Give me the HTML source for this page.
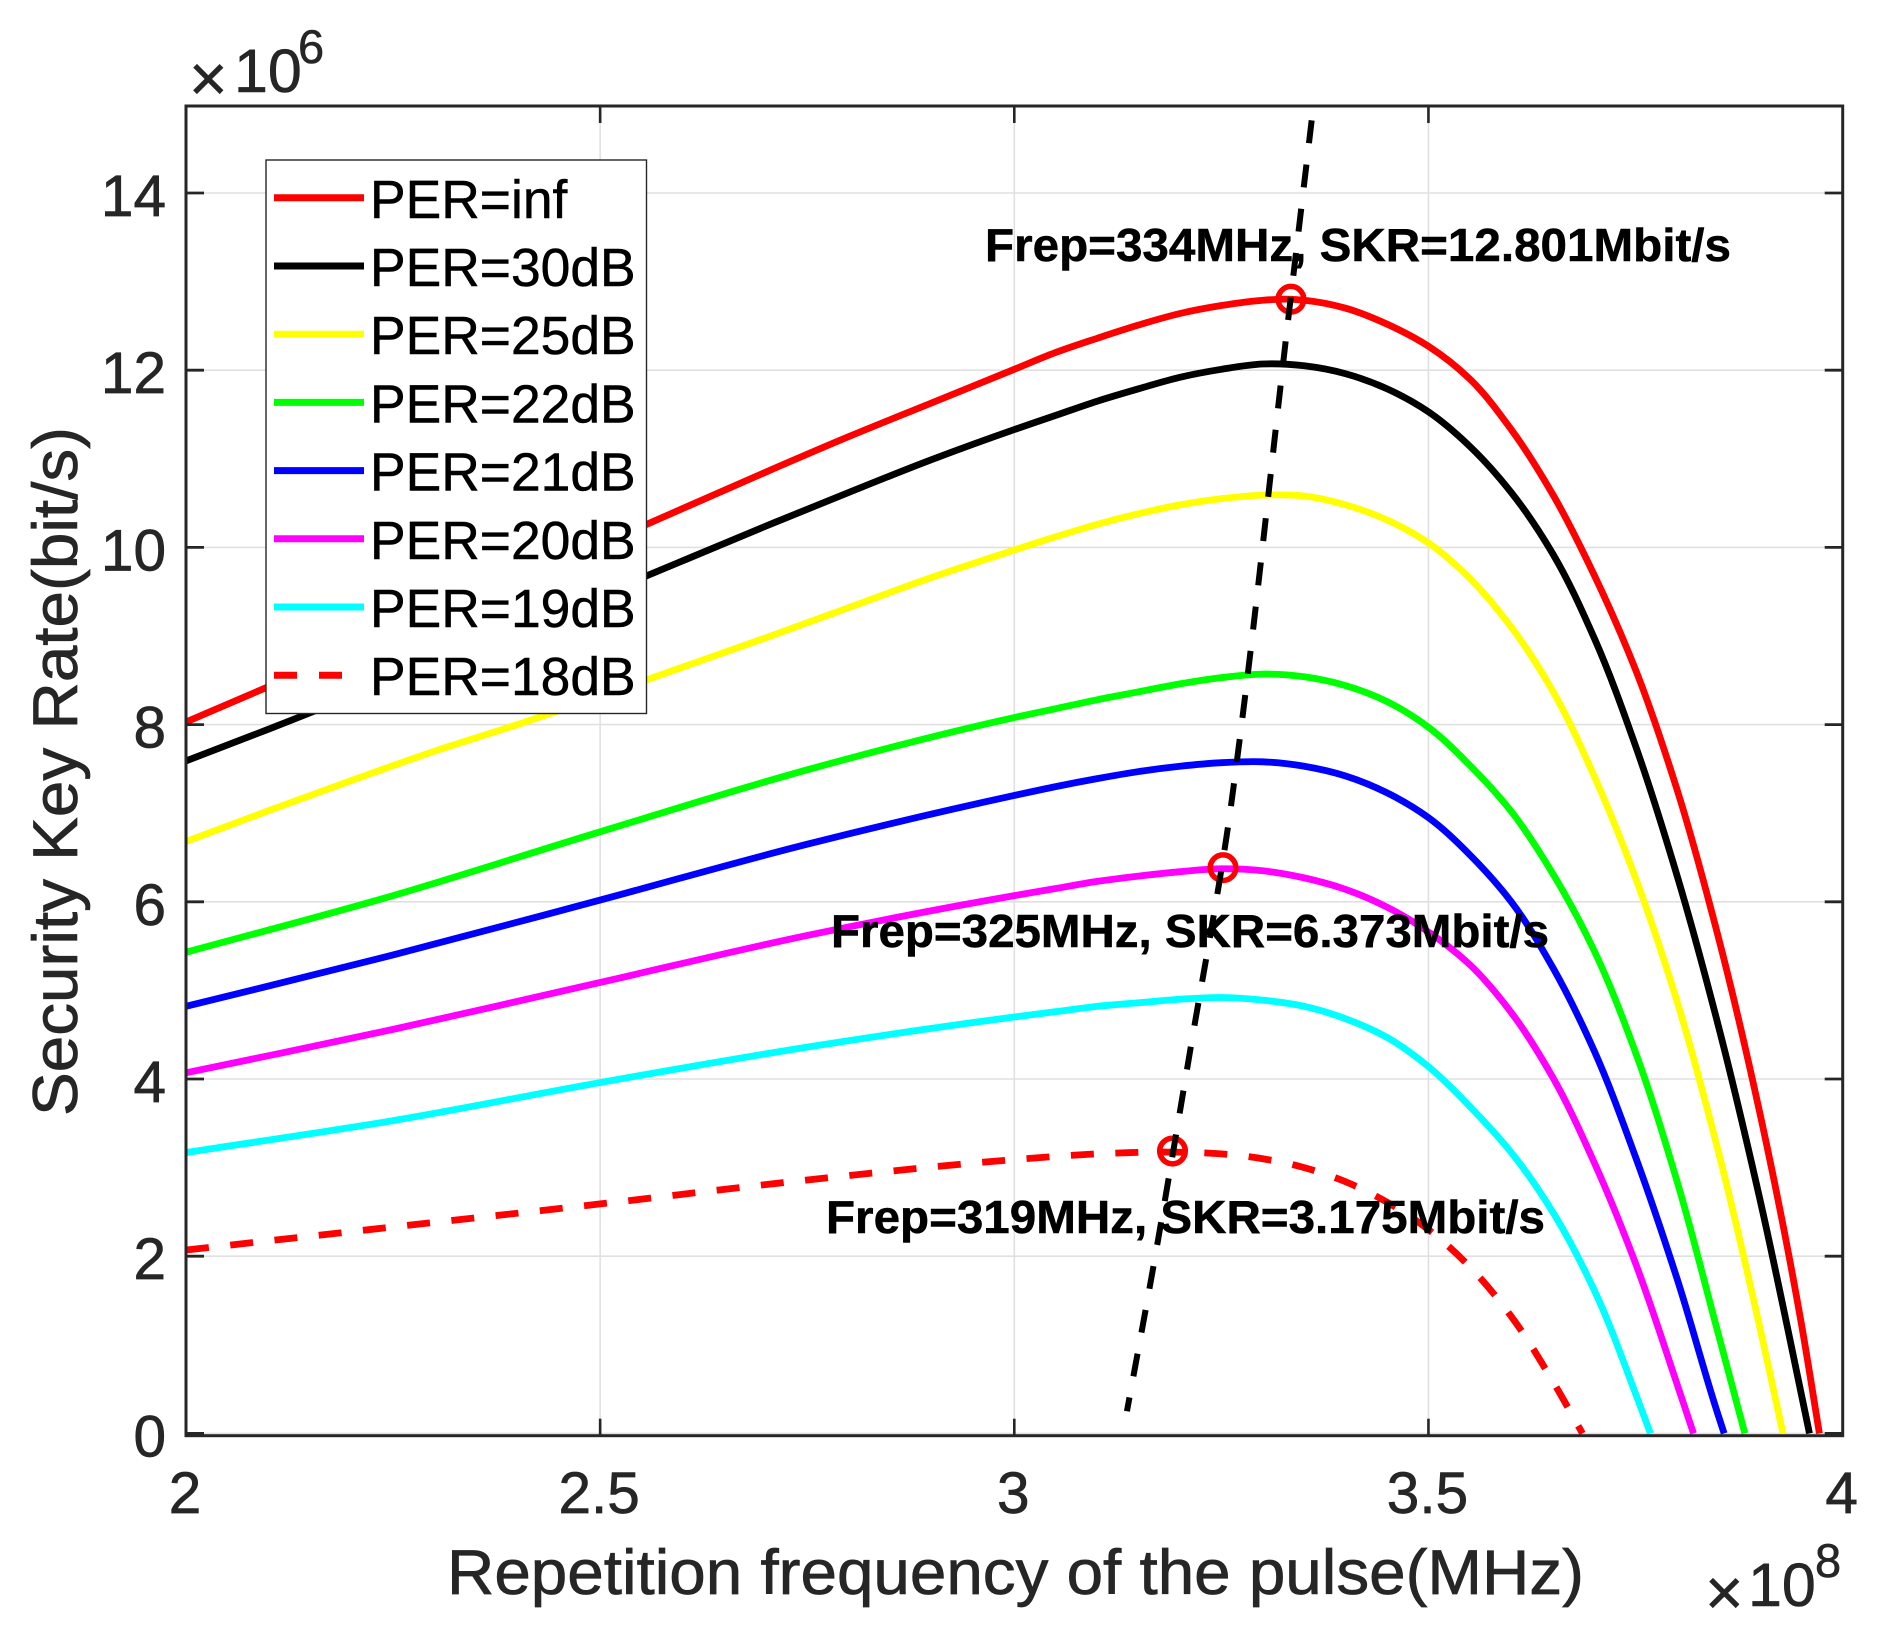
<!DOCTYPE html>
<html lang="en">
<head>
<meta charset="utf-8">
<title>Security Key Rate vs Repetition Frequency</title>
<style>
html,body{margin:0;padding:0;background:#fff;width:1886px;height:1643px;overflow:hidden}
svg{display:block;font-family:"Liberation Sans",Arial,sans-serif}
</style>
</head>
<body>
<svg id="chart" xmlns="http://www.w3.org/2000/svg" width="1886" height="1643" viewBox="0 0 1886 1643">
  <rect x="0" y="0" width="1886" height="1643" fill="#fff"/>
  <g id="grid"></g>
  <g id="curves"></g>
  <g id="markers"></g>
  <g id="locus"></g>
  <g id="axes"></g>
  <g id="ticklabels"></g>

  <text x="447" y="1594" font-size="63" fill="#262626" stroke="#262626" stroke-width="0.7" textLength="1137" lengthAdjust="spacingAndGlyphs">Repetition frequency of the pulse(MHz)</text>
  <text transform="translate(77,1116) rotate(-90)" font-size="63" fill="#262626" stroke="#262626" stroke-width="0.7" textLength="689" lengthAdjust="spacingAndGlyphs">Security Key Rate(bit/s)</text>

  <g fill="#262626" stroke="#262626" stroke-width="0.6">
    <text x="189" y="101" font-size="66">×</text>
    <text x="234" y="92" font-size="61">10</text>
    <text x="298" y="63" font-size="47">6</text>
  </g>
  <g fill="#262626" stroke="#262626" stroke-width="0.6">
    <text x="1705" y="1615" font-size="66">×</text>
    <text x="1748" y="1606" font-size="61">10</text>
    <text x="1815" y="1577" font-size="47">8</text>
  </g>

  <g font-size="46" font-weight="bold" fill="#000" stroke="#000" stroke-width="0.5">
    <text x="985" y="261" textLength="746" lengthAdjust="spacingAndGlyphs">Frep=334MHz, SKR=12.801Mbit/s</text>
    <text x="831" y="947" textLength="718" lengthAdjust="spacingAndGlyphs">Frep=325MHz, SKR=6.373Mbit/s</text>
    <text x="826" y="1233" textLength="719" lengthAdjust="spacingAndGlyphs">Frep=319MHz, SKR=3.175Mbit/s</text>
  </g>

  <g id="legend">
    <rect x="266" y="160" width="380.5" height="553.5" fill="#fff" stroke="#262626" stroke-width="1.4"/>
  </g>
</svg>
<script>
// Axis tick values
const xTickValues = [2, 2.5, 3, 3.5, 4];
const xTickLabels = ['2', '2.5', '3', '3.5', '4'];
const yTickValues = [0, 2, 4, 6, 8, 10, 12, 14];
const yTickLabels = ['0', '2', '4', '6', '8', '10', '12', '14'];

// Series values: x in 1e8 Hz, y in 1e6 bit/s
const xInf = [2,2.1,2.2,2.3,2.4,2.5,2.6,2.7,2.8,2.9,3.0,3.05,3.1,3.15,3.2,3.25,3.3,3.334,3.35,3.4,3.45,3.5,3.55,3.6,3.65,3.7,3.75,3.8,3.85,3.9,3.95,3.972];
const yInf = [8.03,8.43,8.83,9.23,9.63,10.03,10.44,10.85,11.25,11.63,12.01,12.2,12.36,12.51,12.64,12.73,12.79,12.801,12.79,12.70,12.52,12.27,11.90,11.33,10.60,9.69,8.62,7.27,5.60,3.62,1.25,0];
const x30 = [2,2.1,2.2,2.3,2.4,2.5,2.6,2.7,2.8,2.9,3.0,3.05,3.1,3.15,3.2,3.25,3.3,3.35,3.4,3.45,3.5,3.55,3.6,3.65,3.7,3.75,3.8,3.85,3.9,3.95,3.96];
const y30 = [7.59,7.95,8.32,8.7,9.08,9.46,9.85,10.24,10.62,10.99,11.33,11.49,11.65,11.79,11.92,12.01,12.07,12.05,11.96,11.79,11.53,11.14,10.62,9.93,8.98,7.76,6.30,4.60,2.65,0.45,0];
const x25 = [2,2.1,2.2,2.3,2.4,2.5,2.6,2.7,2.8,2.9,3.0,3.05,3.1,3.15,3.2,3.25,3.3,3.35,3.4,3.45,3.5,3.55,3.6,3.65,3.7,3.75,3.8,3.85,3.9,3.928];
const y25 = [6.68,7.03,7.37,7.7,8.0,8.32,8.65,8.98,9.32,9.66,9.97,10.12,10.26,10.38,10.48,10.55,10.59,10.58,10.48,10.31,10.05,9.65,9.10,8.38,7.42,6.27,4.88,3.18,1.2,0];
const x22 = [2,2.25,2.5,2.75,3.0,3.05,3.1,3.15,3.2,3.25,3.3,3.35,3.4,3.45,3.5,3.55,3.6,3.65,3.7,3.75,3.8,3.85,3.882];
const y22 = [5.43,6.07,6.79,7.49,8.08,8.18,8.28,8.37,8.46,8.53,8.57,8.54,8.44,8.26,7.97,7.54,7.02,6.32,5.45,4.30,2.85,1.12,0];
const x21 = [2,2.25,2.5,2.75,3.0,3.05,3.1,3.15,3.2,3.25,3.3,3.35,3.4,3.45,3.5,3.55,3.6,3.65,3.7,3.75,3.8,3.85,3.857];
const y21 = [4.82,5.40,6.02,6.65,7.2,7.3,7.39,7.47,7.53,7.57,7.58,7.53,7.42,7.23,6.95,6.53,6.0,5.26,4.32,3.12,1.75,0.2,0];
const x20 = [2,2.25,2.5,2.75,3.0,3.05,3.1,3.15,3.2,3.25,3.3,3.35,3.4,3.45,3.5,3.55,3.6,3.65,3.7,3.75,3.8,3.82];
const y20 = [4.07,4.56,5.09,5.62,6.07,6.15,6.23,6.29,6.34,6.373,6.35,6.27,6.14,5.94,5.66,5.29,4.75,4.02,3.06,1.92,0.56,0];
const x19 = [2,2.25,2.5,2.75,3.0,3.05,3.1,3.15,3.2,3.25,3.3,3.35,3.4,3.45,3.5,3.55,3.6,3.65,3.7,3.75,3.768];
const y19 = [3.17,3.53,3.96,4.36,4.70,4.76,4.82,4.86,4.90,4.92,4.89,4.82,4.68,4.47,4.14,3.69,3.17,2.50,1.62,0.45,0];
const x18 = [2,2.25,2.5,2.75,3.0,3.1,3.19,3.25,3.3,3.35,3.4,3.45,3.5,3.55,3.6,3.65,3.686];
const y18 = [2.07,2.33,2.59,2.86,3.09,3.155,3.175,3.155,3.10,3.0,2.84,2.61,2.30,1.88,1.32,0.59,0];

// Peak locus (dashed black line), top to bottom
const xLocus = [3.359,3.332,3.27,3.262,3.2125,3.165,3.136];
const yLocus = [14.82,12.68,7.68,7.11,4.33,1.73,0.25];

// Peak markers
const xPeaks = [3.334,3.252,3.191];
const yPeaks = [12.801,6.385,3.187];

// Legend / series identity
const seriesNames = ['PER=inf','PER=30dB','PER=25dB','PER=22dB','PER=21dB','PER=20dB','PER=19dB','PER=18dB'];
const seriesX = [xInf,x30,x25,x22,x21,x20,x19,x18];
const seriesY = [yInf,y30,y25,y22,y21,y20,y19,y18];
const seriesColors = ['#ff0000','#000000','#ffff00','#00ff00','#0000ff','#ff00ff','#00ffff','#ff0000'];

const SVGNS = 'http://www.w3.org/2000/svg';
const xAxisLeft = 186, xAxisRight = 1842.7, yAxisTop = 106, yAxisBottom = 1435.7;
function sx(v){ return 186 + (v - 2) * 828.3; }
function sy(v){ return 1433.4 - v * 88.6; }

function mk(tag, attrs, parent){
  const el = document.createElementNS(SVGNS, tag);
  for (const k in attrs) el.setAttribute(k, attrs[k]);
  parent.appendChild(el);
  return el;
}
function smoothPath(xs, ys){
  const p = xs.map(function(x, i){ return [sx(x), sy(ys[i])]; });
  const n = p.length;
  const d = [];
  for (let i = 0; i < n - 1; i++) d.push(Math.hypot(p[i + 1][0] - p[i][0], p[i + 1][1] - p[i][1]));
  const m = [];
  for (let i = 0; i < n; i++){
    if (i === 0) m.push([(p[1][0] - p[0][0]) / d[0], (p[1][1] - p[0][1]) / d[0]]);
    else if (i === n - 1) m.push([(p[i][0] - p[i - 1][0]) / d[i - 1], (p[i][1] - p[i - 1][1]) / d[i - 1]]);
    else {
      const d0 = d[i - 1], d1 = d[i], s = d0 + d1;
      m.push([
        ((p[i][0] - p[i - 1][0]) / d0 * d1 + (p[i + 1][0] - p[i][0]) / d1 * d0) / s,
        ((p[i][1] - p[i - 1][1]) / d0 * d1 + (p[i + 1][1] - p[i][1]) / d1 * d0) / s
      ]);
    }
  }
  let out = 'M' + p[0][0].toFixed(2) + ' ' + p[0][1].toFixed(2);
  for (let i = 0; i < n - 1; i++){
    const h = d[i] / 3;
    out += 'C' + (p[i][0] + m[i][0] * h).toFixed(2) + ' ' + (p[i][1] + m[i][1] * h).toFixed(2) + ' ' +
      (p[i + 1][0] - m[i + 1][0] * h).toFixed(2) + ' ' + (p[i + 1][1] - m[i + 1][1] * h).toFixed(2) + ' ' +
      p[i + 1][0].toFixed(2) + ' ' + p[i + 1][1].toFixed(2);
  }
  return out;
}

const gridG = document.getElementById('grid');
const axesG = document.getElementById('axes');
const labelsG = document.getElementById('ticklabels');
const curvesG = document.getElementById('curves');
const markersG = document.getElementById('markers');
const locusG = document.getElementById('locus');
const legendG = document.getElementById('legend');

// grid + ticks + labels
xTickValues.forEach(function(v, i){
  const x = sx(v);
  if (i > 0 && i < xTickValues.length - 1){
    const g = mk('line', {x1:x, x2:x, y1:yAxisTop, y2:yAxisBottom, stroke:'#e0e0e0', 'stroke-width':1.6}, gridG);
    
    
    const t1 = mk('line', {x1:x, x2:x, y1:yAxisBottom, y2:yAxisBottom - 17, stroke:'#262626', 'stroke-width':2.6}, axesG);
    
    
    const t2 = mk('line', {x1:x, x2:x, y1:yAxisTop, y2:yAxisTop + 17, stroke:'#262626', 'stroke-width':2.6}, axesG);
    
    
  }
  const lab = mk('text', {x:x - 1, y:1513, 'text-anchor':'middle', 'font-size':58.5, fill:'#262626', stroke:'#262626', 'stroke-width':0.7}, labelsG);
  
  
  lab.textContent = xTickLabels[i];
});
yTickValues.forEach(function(v, i){
  const y = sy(v);
  const g = mk('line', {x1:xAxisLeft, x2:xAxisRight, y1:y, y2:y, stroke:'#e0e0e0', 'stroke-width':1.6}, gridG);
  
  
  const t1 = mk('line', {x1:xAxisLeft, x2:xAxisLeft + 18, y1:y, y2:y, stroke:'#262626', 'stroke-width':2.8}, axesG);
  
  
  const t2 = mk('line', {x1:xAxisRight, x2:xAxisRight - 18, y1:y, y2:y, stroke:'#262626', 'stroke-width':2.8}, axesG);
  
  
  const lab = mk('text', {x:166, y:y + 23, 'text-anchor':'end', 'font-size':58.5, fill:'#262626', stroke:'#262626', 'stroke-width':0.7}, labelsG);
  
  
  lab.textContent = yTickLabels[i];
});

// axes box
const box = mk('rect', {x:xAxisLeft, y:yAxisTop, width:xAxisRight - xAxisLeft, height:yAxisBottom - yAxisTop, fill:'none', stroke:'#262626', 'stroke-width':3}, axesG);



// curves
seriesNames.forEach(function(name, i){
  const path = mk('path', {d:smoothPath(seriesX[i], seriesY[i]), fill:'none', stroke:seriesColors[i], 'stroke-width':6.8, 'stroke-linejoin':'round'}, curvesG);
  if (i === seriesNames.length - 1) path.setAttribute('stroke-dasharray', '23 21.5');
  
  
});

// markers
xPeaks.forEach(function(x, i){
  const c = mk('circle', {cx:sx(x), cy:sy(yPeaks[i]), r:12.8, fill:'none', stroke:'#ff0000', 'stroke-width':5.5}, markersG);
  
  
});

// locus
const locusPath = mk('path', {d:smoothPath(xLocus, yLocus), fill:'none', stroke:'#000', 'stroke-width':6, 'stroke-dasharray':'23 21.5'}, locusG);



// legend
seriesNames.forEach(function(name, i){
  const y = 197.8 + i * 68.2;
  const ln = mk('line', {x1:274, x2:364, y1:y, y2:y, stroke:seriesColors[i], 'stroke-width':7}, legendG);
  if (i === seriesNames.length - 1) ln.setAttribute('stroke-dasharray', '23 22');
  
  
  const tx = mk('text', {x:370, y:y + 20, 'font-size':53.4, fill:'#000', stroke:'#000', 'stroke-width':0.5}, legendG);
  
  
  tx.textContent = name;
});
</script>
</body>
</html>
